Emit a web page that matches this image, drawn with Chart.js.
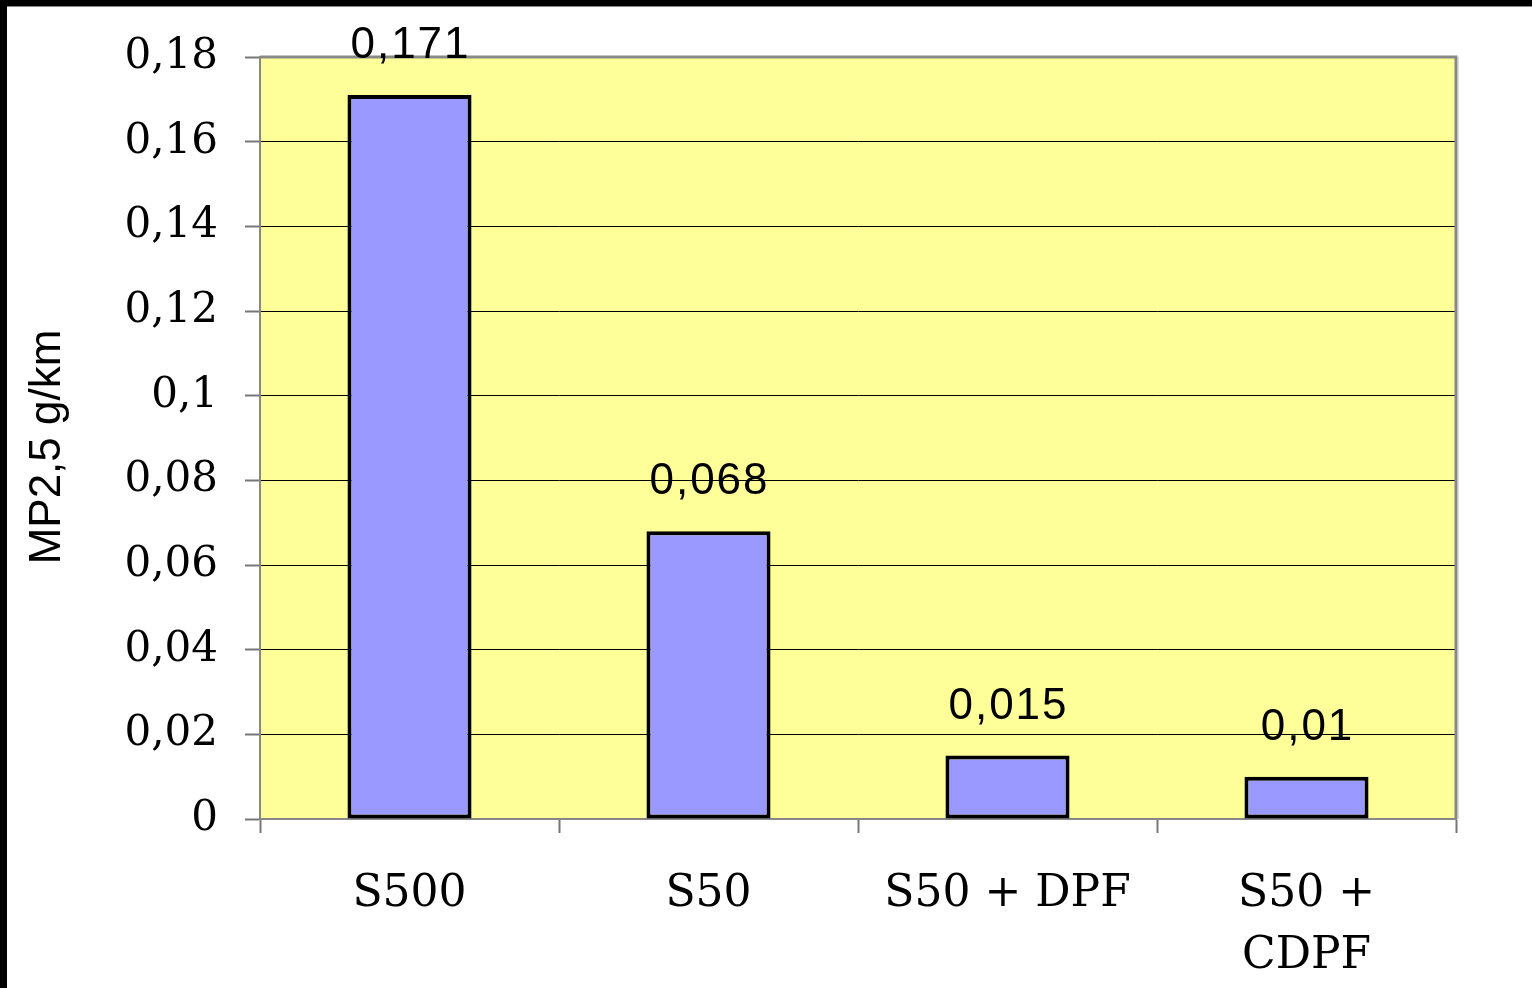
<!DOCTYPE html>
<html>
<head>
<meta charset="utf-8">
<script src="https://cdn.jsdelivr.net/npm/chart.js@4"></script>
<style>
  html, body { margin: 0; padding: 0; background: #fff; }
  #wrap { position: relative; width: 1532px; height: 988px; overflow: hidden; background: #fff; }
  #c { position: absolute; left: 0; top: 0; }
  .bt { position: absolute; left: 0; top: 0; width: 1532px; height: 6px; background: #000; border-bottom: 1px solid #888; }
  .bl { position: absolute; left: 0; top: 0; width: 7px; height: 988px; background: #000; }
</style>
</head>
<body>
<div id="wrap">
  <canvas id="c" width="1532" height="988"></canvas>
  <div class="bt"></div>
  <div class="bl"></div>
</div>
<script>
const categories = ["S500", "S50", "S50 + DPF", ["S50 +", "CDPF"]];
const values = [0.171, 0.068, 0.015, 0.01];
const valueLabels = ["0,171", "0,068", "0,015", "0,01"];
const yTicks = [0, 0.02, 0.04, 0.06, 0.08, 0.1, 0.12, 0.14, 0.16, 0.18];
const yTitle = "MP2,5 g/km";

const plotDeco = {
  id: 'plotDeco',
  beforeDraw(chart) {
    const a = chart.chartArea, ctx = chart.ctx;
    ctx.save();
    ctx.fillStyle = '#FFFF99';
    ctx.fillRect(a.left, a.top, a.right - a.left, a.bottom - a.top);
    ctx.restore();
  },
  afterDatasetsDraw(chart) {
    const a = chart.chartArea, ctx = chart.ctx;
    ctx.save();
    ctx.strokeStyle = '#888';
    ctx.lineWidth = 3;
    ctx.beginPath();
    ctx.moveTo(a.left, a.top);
    ctx.lineTo(a.right, a.top);
    ctx.lineTo(a.right, a.bottom);
    ctx.stroke();
    ctx.strokeStyle = '#bbb';
    ctx.lineWidth = 1;
    ctx.beginPath();
    ctx.moveTo(a.right + 2, a.top);
    ctx.lineTo(a.right + 2, a.bottom);
    ctx.stroke();
    // data labels
    const meta = chart.getDatasetMeta(0);
    ctx.fillStyle = '#000';
    ctx.font = '44px "Liberation Sans", Arial, sans-serif';
    ctx.textAlign = 'center';
    ctx.textBaseline = 'alphabetic';
    try { ctx.letterSpacing = '2px'; } catch (e) {}
    meta.data.forEach((bar, i) => {
      ctx.fillText(valueLabels[i], bar.x + 1, bar.y - 37);
    });
    ctx.restore();
    // y axis title
    ctx.save();
    ctx.fillStyle = '#000';
    ctx.font = '44px "Liberation Sans", Arial, sans-serif';
    ctx.translate(60, 447);
    ctx.rotate(-Math.PI / 2);
    ctx.textAlign = 'center';
    ctx.textBaseline = 'alphabetic';
    ctx.fillText(yTitle, 0, 0);
    ctx.restore();
  }
};

new Chart(document.getElementById('c'), {
  type: 'bar',
  data: {
    labels: categories,
    datasets: [{
      data: values,
      backgroundColor: '#9999FF',
      borderColor: '#000',
      borderWidth: 4,
      borderSkipped: false,
      categoryPercentage: 1,
      barPercentage: 0.415
    }]
  },
  options: {
    responsive: false,
    animation: false,
    devicePixelRatio: 1,
    layout: { padding: { left: 0, right: 76, top: 57, bottom: 0 } },
    plugins: { legend: { display: false }, tooltip: { enabled: false } },
    scales: {
      x: {
        offset: true,
        grid: { offset: true, drawOnChartArea: false, tickLength: 14, tickColor: '#777', tickWidth: 2 },
        border: { color: '#888', width: 2 },
        ticks: {
          color: '#000',
          font: { family: '"DejaVu Serif", "Liberation Serif", serif', size: 44, lineHeight: 1.42 },
          padding: 30,
          maxRotation: 0,
          autoSkip: false
        },
        afterFit(s) { s.height = 169; }
      },
      y: {
        min: 0, max: 0.18,
        afterBuildTicks(s) { s.ticks = yTicks.map(v => ({ value: v })); },
        grid: { color: '#000', lineWidth: 1, tickLength: 15, tickColor: '#777', tickWidth: 2 },
        border: { color: '#888', width: 2 },
        ticks: {
          color: '#000',
          padding: 27,
          font: { family: '"DejaVu Serif", "Liberation Serif", serif', size: 42 },
          callback: (v) => String(Math.round(v * 100) / 100).replace('.', ',')
        },
        afterFit(s) { s.width = 260; }
      }
    }
  },
  plugins: [plotDeco]
});
</script>
</body>
</html>
